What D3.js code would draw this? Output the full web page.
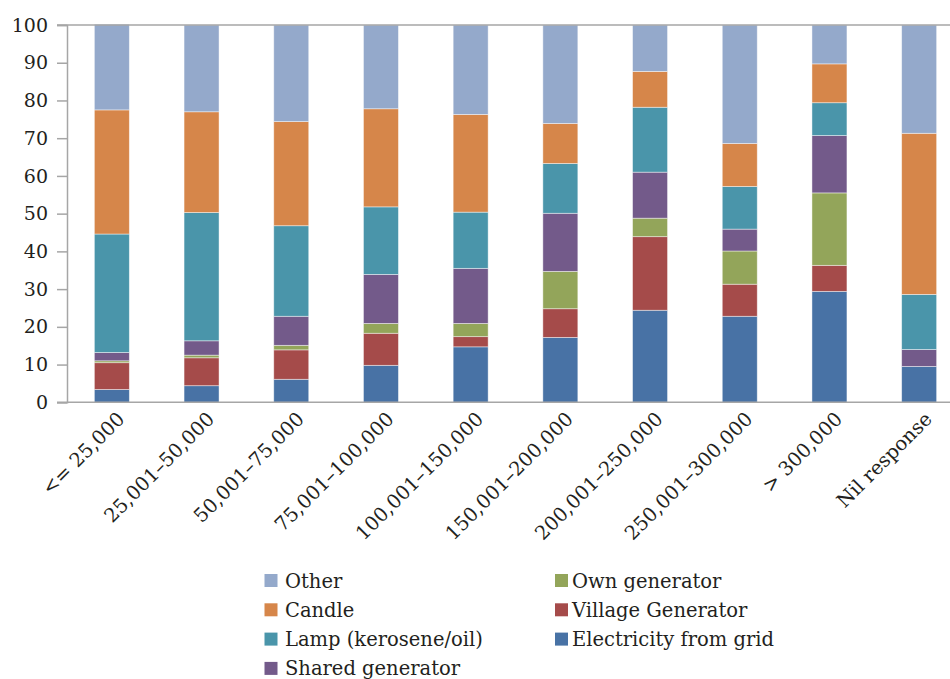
<!DOCTYPE html>
<html>
<head>
<meta charset="utf-8">
<script src="https://cdn.jsdelivr.net/npm/d3@7"></script>
<style>
  html, body { margin: 0; padding: 0; background: #fff; }
  svg { display: block; }
  text { font-family: "DejaVu Serif", serif; fill: #231f20; }
</style>
</head>
<body>
<svg id="chart" width="950" height="679"></svg>
<script>
// ---- data ----
const categories = ["<= 25,000", "25,001\u201350,000", "50,001\u201375,000", "75,001\u2013100,000",
  "100,001\u2013150,000", "150,001\u2013200,000", "200,001\u2013250,000", "250,001\u2013300,000",
  "> 300,000", "Nil response"];
const seriesNames = ["Electricity from grid", "Village Generator", "Own generator",
  "Shared generator", "Lamp (kerosene/oil)", "Candle", "Other"];
const electricity = [3.4, 4.4, 6.1, 9.8, 14.7, 17.2, 24.4, 22.8, 29.4, 9.5];
const village     = [7.1, 7.4, 7.8, 8.5, 2.7, 7.6, 19.5, 8.5, 6.9, 0];
const ownGen      = [0.5, 0.7, 1.2, 2.6, 3.5, 9.9, 4.9, 8.8, 19.2, 0];
const sharedGen   = [2.2, 3.8, 7.7, 13.0, 14.6, 15.4, 12.2, 5.8, 15.2, 4.5];
const lamp        = [31.4, 34.0, 24.0, 17.9, 14.9, 13.2, 17.2, 11.3, 8.7, 14.6];
const candle      = [32.9, 26.7, 27.6, 26.0, 25.9, 10.6, 9.5, 11.4, 10.3, 42.7];
const otherSrc    = [22.7, 23.0, 25.6, 22.2, 23.7, 26.1, 12.3, 31.4, 10.3, 28.7];
const yTicks = [0, 10, 20, 30, 40, 50, 60, 70, 80, 90, 100];
const colors = ["#4872a5", "#a54b4a", "#93a55a", "#735a8a", "#4a95aa", "#d6864a", "#94a9cb"];
const legendCol1 = ["Other", "Candle", "Lamp (kerosene/oil)", "Shared generator"];
const legendCol2 = ["Own generator", "Village Generator", "Electricity from grid"];

(function () {
const FONT = "'DejaVu Serif', serif";
const seriesValues = [electricity, village, ownGen, sharedGen, lamp, candle, otherSrc];
const table = categories.map((c, i) => {
  const row = { cat: c };
  seriesNames.forEach((s, k) => row[s] = seriesValues[k][i]);
  return row;
});

const svg = d3.select("#chart");
const mLeft = 67, mTop = 25, mBottom = 402.3, mRight = 964;

const x = d3.scaleBand().domain(categories).range([mLeft, mRight])
  .paddingInner(0.61).paddingOuter(0.305);
const y = d3.scaleLinear().domain([0, 100]).range([mBottom, mTop]);
const color = d3.scaleOrdinal().domain(seriesNames).range(colors);

const stacked = d3.stack().keys(seriesNames)(table);

svg.append("g").selectAll("g").data(stacked).join("g")
  .attr("fill", d => color(d.key))
  .selectAll("rect").data(d => d).join("rect")
  .attr("x", d => x(d.data.cat))
  .attr("width", x.bandwidth())
  .attr("y", d => y(d[1]))
  .attr("height", d => Math.max(0, y(d[0]) - y(d[1])))
  .attr("stroke", "rgba(255,255,255,0.55)")
  .attr("stroke-width", 0.8);

svg.append("line")
  .attr("x1", mLeft - 10).attr("x2", 950)
  .attr("y1", y(100)).attr("y2", y(100))
  .attr("stroke", "#a6a6a6").attr("stroke-width", 1.5);

const yAxis = svg.append("g").attr("transform", `translate(${mLeft},0)`)
  .call(d3.axisLeft(y).tickValues(yTicks).tickSize(10).tickPadding(9));
yAxis.select(".domain").attr("stroke", "#a6a6a6").attr("stroke-width", 1.5);
yAxis.selectAll(".tick line").attr("stroke", "#a6a6a6").attr("stroke-width", 1.5);
yAxis.selectAll(".tick text").style("font-size", "19px")
  .style("font-family", FONT).attr("fill", "#231f20");

const xAxis = svg.append("g").attr("transform", `translate(0,${mBottom})`)
  .call(d3.axisBottom(x).tickSize(0).tickSizeOuter(0));
xAxis.select(".domain").attr("stroke", "#a6a6a6").attr("stroke-width", 1.5)
  .attr("d", `M${mLeft - 10},0H950`);
xAxis.selectAll(".tick text")
  .style("font-size", "19.5px")
  .style("font-family", FONT)
  .attr("fill", "#231f20")
  .attr("text-anchor", "end")
  .attr("transform", "translate(14,18) rotate(-45)")
  .attr("x", 0).attr("y", 0).attr("dy", "0");

const lg = svg.append("g");
const rowStep = 29.3;
function legendColumn(names, sx, tx) {
  names.forEach((n, i) => {
    const cy = 580.5 + i * rowStep;
    lg.append("rect").attr("x", sx).attr("y", cy - 6.5).attr("width", 13).attr("height", 13)
      .attr("fill", color(n));
    lg.append("text").attr("x", tx).attr("y", cy + 7).text(n)
      .style("font-size", "19.5px").style("font-family", FONT);
  });
}
legendColumn(legendCol1, 264.5, 285);
legendColumn(legendCol2, 555, 572);
})();
</script>
</body>
</html>
